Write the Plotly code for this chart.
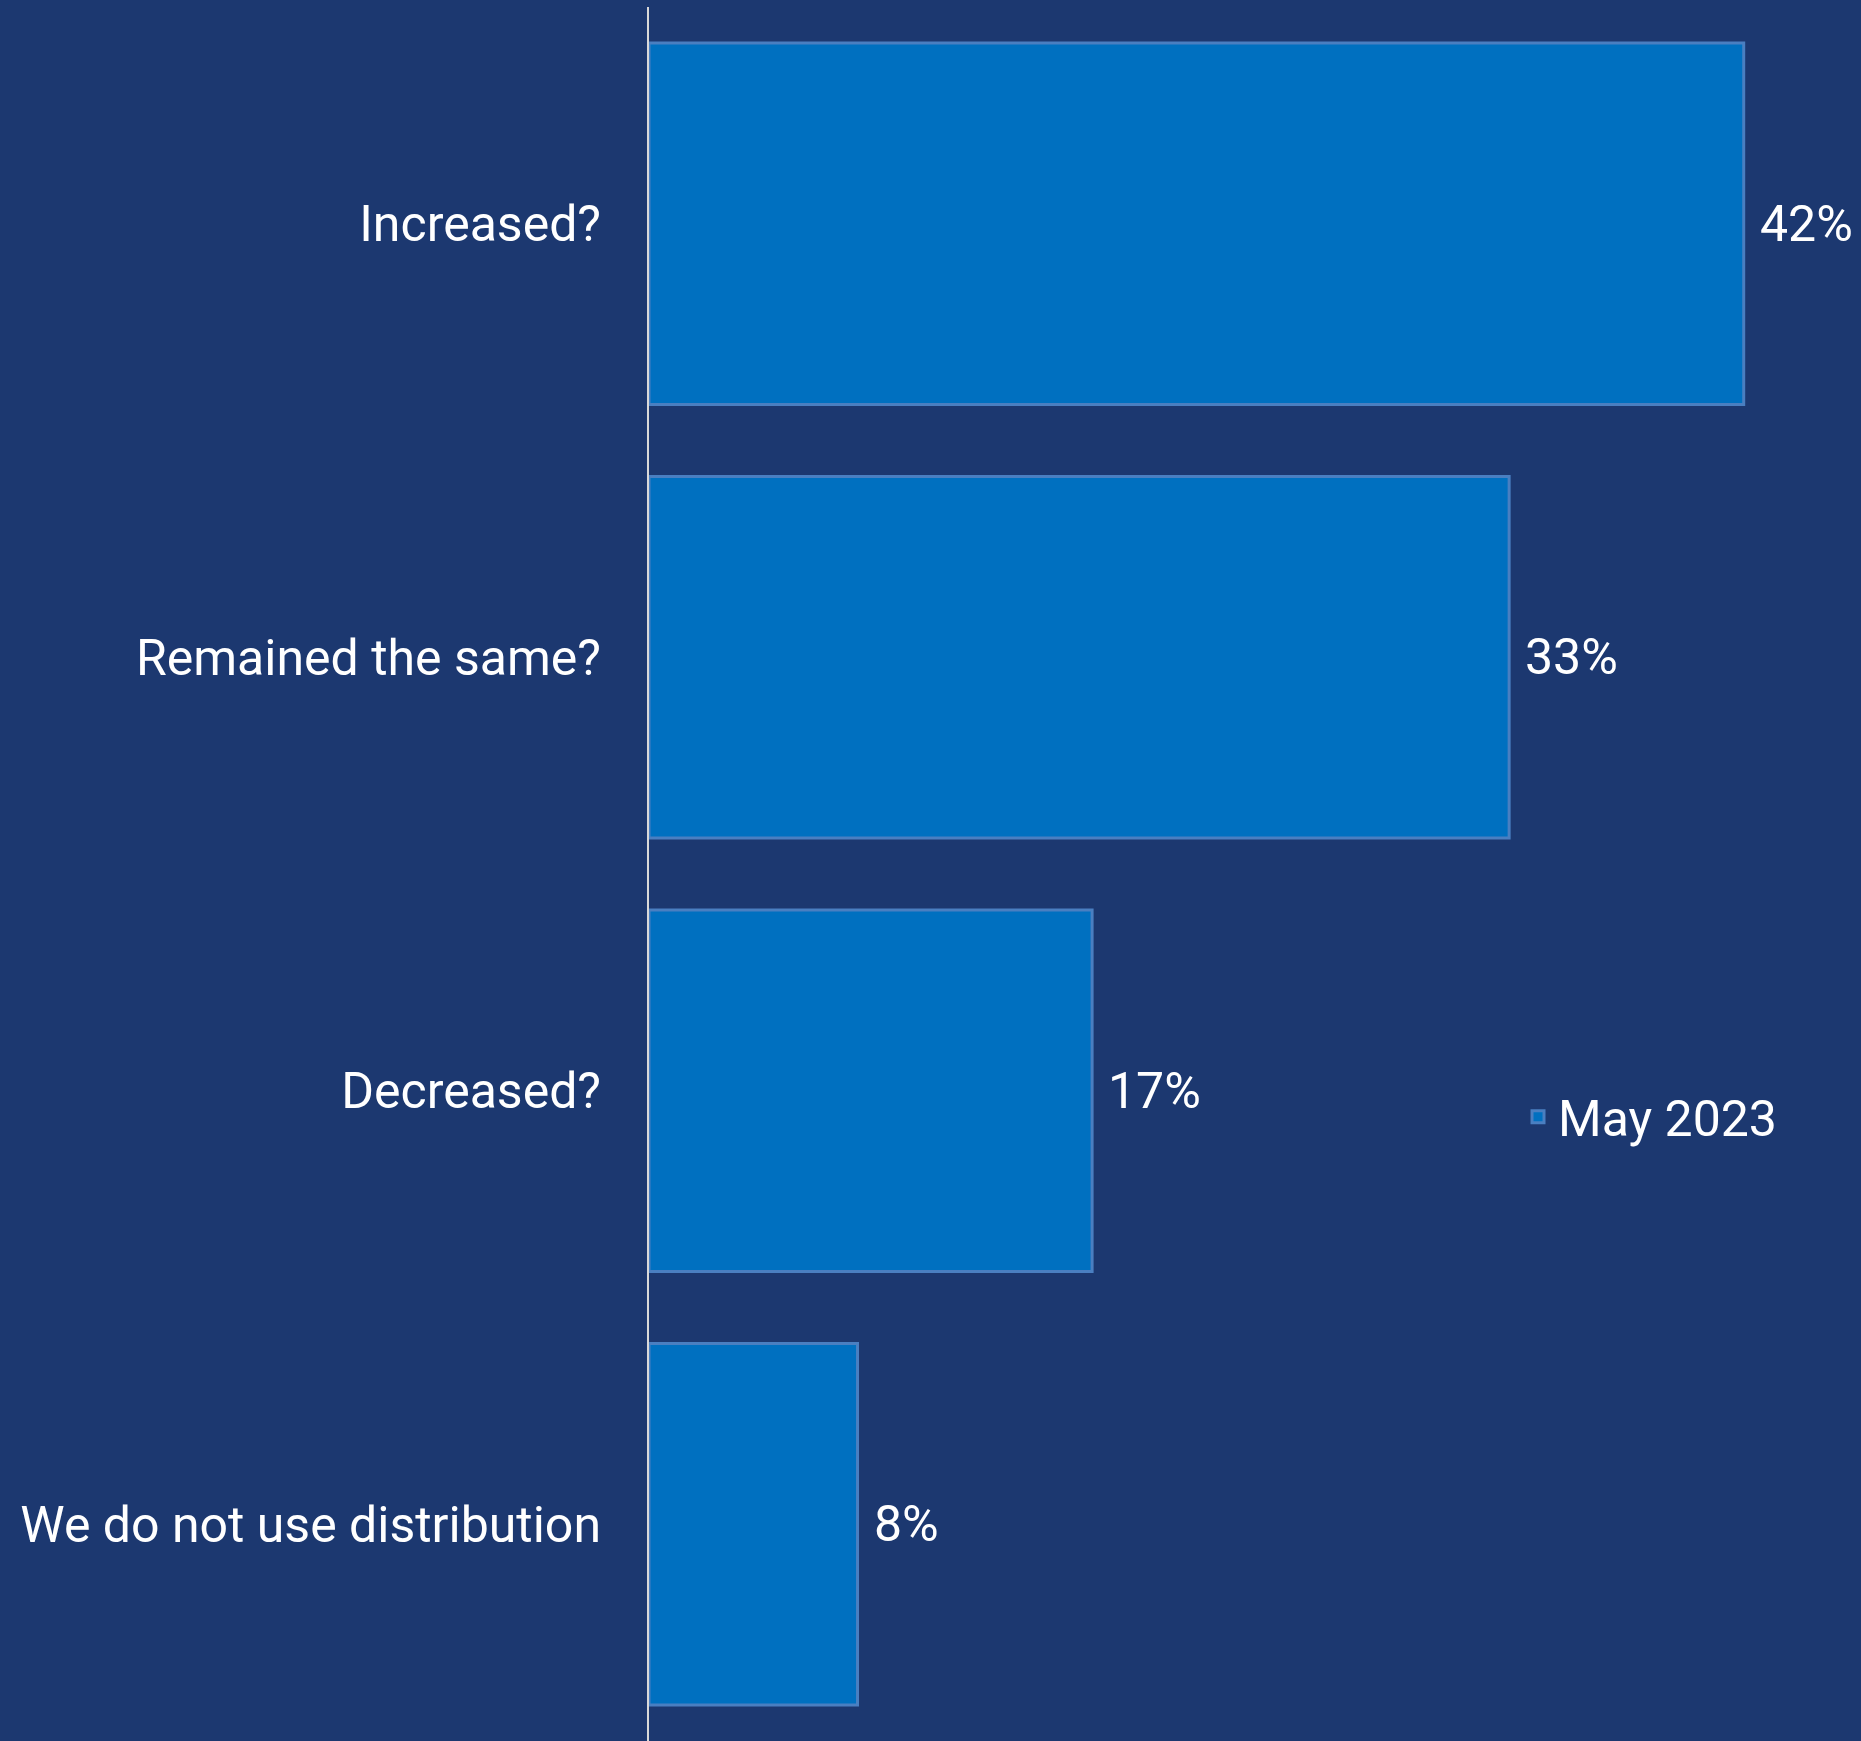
import plotly.graph_objects as go

categories = ["Increased?", "Remained the same?", "Decreased?", "We do not use distribution"]
values = [42, 33, 17, 8]
labels = ["42%", "33%", "17%", "8%"]
series_name = "May 2023"

BG = "#1c3870"
FILL = "#0070c0"
EDGE = "#4a7fc1"
FONT = "Roboto"
FS = 50

fig = go.Figure()
fig.add_trace(go.Bar(
    y=categories, x=values, orientation="h", name=series_name,
    marker=dict(color=FILL, line=dict(color=EDGE, width=3)),
    showlegend=True,
))
for c, v, t in zip(categories, values, labels):
    fig.add_annotation(x=v, y=c, text=t, showarrow=False, xanchor="left",
                       xshift=14, font=dict(family=FONT, size=FS, color="white"))

fig.update_layout(
    width=1861, height=1741,
    paper_bgcolor=BG, plot_bgcolor=BG,
    margin=dict(l=649, r=0, t=7, b=0),
    bargap=0.166,
    font=dict(family=FONT, size=FS, color="white"),
    xaxis=dict(range=[0, 46.5], visible=False, showgrid=False, zeroline=False),
    yaxis=dict(autorange="reversed", showline=True, linecolor="#d9d9d9", linewidth=2,
               showgrid=False, ticks="", ticklabelstandoff=36,
               tickfont=dict(family=FONT, size=FS, color="white")),
    legend=dict(x=0.717, y=0.36, xanchor="left", yanchor="middle",
                bgcolor="rgba(0,0,0,0)", font=dict(family=FONT, size=FS, color="white")),
)
fig.write_html("out.html")
